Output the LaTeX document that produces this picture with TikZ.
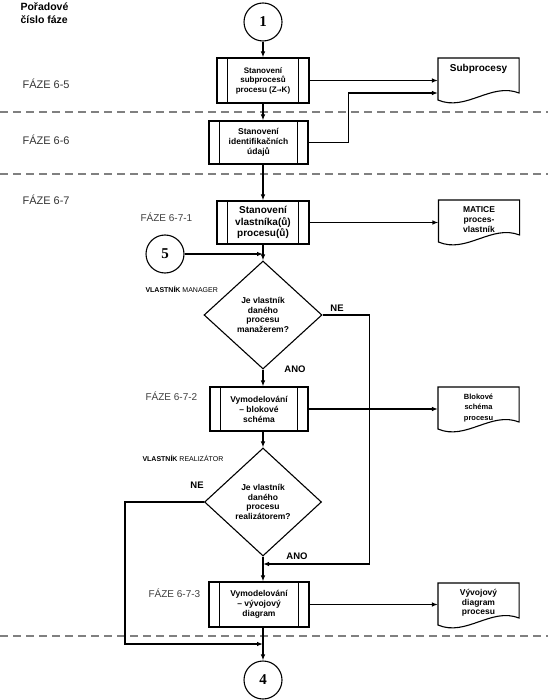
\documentclass[tikz,border=0pt]{standalone}
\usepackage{fontspec}
\setmainfont{Liberation Sans}
\newfontfamily\numfont{Liberation Serif}
\newfontfamily\symfont{DejaVu Sans}
\usetikzlibrary{shapes.geometric,arrows.meta}
\newcommand\fsz[2]{\fontsize{#1}{#2}\selectfont}
\tikzset{
  conn/.style={draw, circle, minimum size=38pt, inner sep=0pt, font=\numfont\bfseries\fsz{15}{15}},
  procbox/.style={draw, inner sep=0pt, align=center, font=\bfseries},
  decision/.style={draw, diamond, inner sep=0pt, minimum width=118pt, minimum height=108pt, align=center, font=\bfseries\fsz{8.5}{9.5}},
  doc/.style={anchor=north, text width=74pt, inner xsep=3pt, inner ysep=6pt, align=center, font=\bfseries},
  phase/.style={anchor=west, inner sep=0pt, text=black!80, font=\fsz{11}{12}},
  subphase/.style={anchor=west, inner sep=0pt, text=black!75, font=\fsz{10}{12}},
  owner/.style={anchor=west, inner sep=0pt, font=\fsz{7}{8}},
  answer/.style={inner sep=0pt, font=\bfseries\fsz{9.5}{11}},
  divider/.style={gray, line width=1.2pt, dash pattern=on 8pt off 5pt},
}
\begin{document}
\begin{tikzpicture}[x=1pt, y=-1pt, line width=1.1pt, >={Latex[length=6pt,width=4.5pt]}]
      \useasboundingbox (0,0) rectangle (548,700);
      \draw[divider] (0,112) -- (548,112);
      \draw[divider] (0,174) -- (548,174);
      \draw[divider] (0,636) -- (548,636);
      \path
        (20,2) node[anchor=north west, inner sep=0pt, align=left, font=\bfseries\fsz{10.5}{13}] (title) {Pořadové\\číslo fáze}
        (22,84) node[phase] (f65) {FÁZE 6-5}
        (22,140) node[phase] (f66) {FÁZE 6-6}
        (22,200) node[phase] (f67) {FÁZE 6-7}
        (140,217) node[subphase] (f671) {FÁZE 6-7-1}
        (145,396) node[subphase] (f672) {FÁZE 6-7-2}
        (148,593) node[subphase] (f673) {FÁZE 6-7-3}
        (145,289) node[owner] (own1) {\textbf{VLASTNÍK} MANAGER}
        (142,458) node[owner] (own2) {\textbf{VLASTNÍK} REALIZÁTOR}
        (337,308) node[answer] (ne1) {NE}
        (295,369) node[answer] (ano1) {ANO}
        (197,485) node[answer] (ne2) {NE}
        (297,556) node[answer] (ano2) {ANO};
      \path
        (263,22) node[conn] (c1) {1}
        (165,254) node[conn] (c5) {5}
        (263,680) node[conn] (c4) {4}
        (263,80.5) node[procbox, minimum width=92pt, minimum height=45pt, font=\bfseries\fsz{8}{9.5}] (b1) {Stanovení\\subprocesů\\procesu (Z{\symfont\fsz{6}{9}→}K)}
        (258.5,142.5) node[procbox, minimum width=99pt, minimum height=43pt, font=\bfseries\fsz{8.5}{10}] (b2) {Stanovení\\identifikačních\\údajů}
        (263,222.5) node[procbox, minimum width=92pt, minimum height=43pt, font=\bfseries\fsz{10}{11.5}] (b3) {Stanovení\\vlastníka(ů)\\procesu(ů)}
        (259,409) node[procbox, minimum width=98pt, minimum height=44pt, font=\bfseries\fsz{8.5}{10}] (b4) {Vymodelování\\– blokové\\schéma}
        (259,604.5) node[procbox, minimum width=100pt, minimum height=45pt, font=\bfseries\fsz{8.5}{10}] (b5) {Vymodelování\\– vývojový\\diagram}
        (263,315) node[decision] (d1) {Je vlastník\\daného\\procesu\\manažerem?}
        (263,502) node[decision, minimum width=117pt] (d2) {Je vlastník\\daného\\procesu\\realizátorem?}
        (478.5,58) node[doc, font=\bfseries\fsz{10}{11}] (sub) {Subprocesy}
        (479,200) node[doc, font=\bfseries\fsz{8.5}{10}] (mat) {MATICE\\proces-\\vlastník}
        (478.5,387) node[doc, font=\bfseries\fsz{7.5}{10.5}] (blk) {Blokové\\schéma\\procesu}
        (478.5,583) node[doc, font=\bfseries\fsz{8.5}{9.5}] (vyv) {Vývojový\\diagram\\procesu};
      \coordinate (j1) at (263,564);
      \coordinate (j2) at (263,644);
      \foreach \b in {b1,b2,b3,b4,b5} {
        \draw ([xshift=11pt]\b.north west) -- ([xshift=11pt]\b.south west);
        \draw ([xshift=-11pt]\b.north east) -- ([xshift=-11pt]\b.south east);
      }
      \foreach \d in {sub,mat,blk,vyv}
        \draw (\d.north west) -- ([yshift=-42pt]\d.north west)
          .. controls ([xshift=28pt,yshift=-54pt]\d.north west) and ([xshift=-28pt,yshift=-24pt]\d.north east)
          .. ([yshift=-35pt]\d.north east) -- (\d.north east) -- cycle;
      \begin{scope}[->]
        \draw (c1) -- (b1);
        \draw (b1) -- (b1 |- b2.north);
        \draw (b3 |- b2.south) -- (b3);
        \draw (b3) -- (d1);
        \draw (c5) -- (c5 -| b3);
        \draw (d1) -- (d1 |- b4.north);
        \draw (d2 |- b4.south) -- (d2);
        \draw (d2) -- (d2 |- b5.north);
        \draw (d2 |- b5.south) -- (c4);
        \draw (b1) -- (b1 -| sub.west);
        \draw (b2.east) -- ++(40,0) |- ([yshift=-35pt]sub.north west);
        \draw (b3) -- (b3 -| mat.west);
        \draw (b4) -- (b4 -| blk.west);
        \draw (b5) -- (b5 -| vyv.west);
        \draw (d1.east) -- ++(47,0) |- (j1);
        \draw (d2.west) -- ++(-79,0) |- (j2);
      \end{scope}
    \end{tikzpicture}
\end{document}
